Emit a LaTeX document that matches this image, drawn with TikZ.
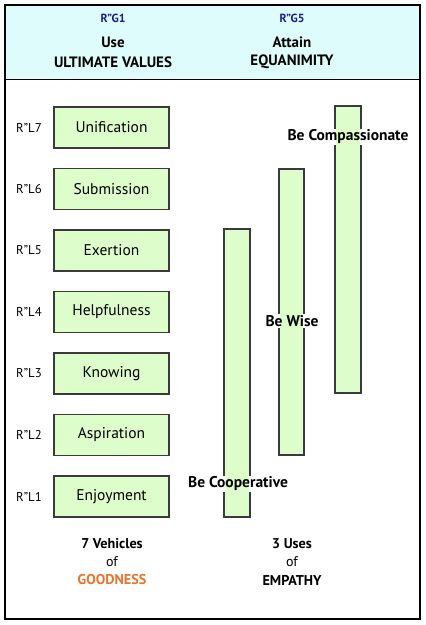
\documentclass[tikz,border=0pt]{standalone}
\usepackage{fontspec}
\setmainfont{PT Sans}
\definecolor{hdr}{HTML}{DFFCFC}
\definecolor{boxg}{HTML}{DDFDCB}
\definecolor{navy}{HTML}{1A1A8C}
\definecolor{orng}{HTML}{E8732A}
\definecolor{edge}{HTML}{3A3A3A}
\begin{document}
\begin{tikzpicture}[x=1pt,y=-1pt,
  vbox/.style={draw=edge,line width=1.2pt,fill=boxg,minimum width=115pt,minimum height=41pt,inner sep=0pt,font=\fontsize{15.5}{17}\selectfont},
  lvl/.style={font=\fontsize{12.8}{14}\selectfont},
  gid/.style={font=\bfseries\fontsize{11.8}{13}\selectfont,text=navy},
  htxt/.style={font=\bfseries\fontsize{15}{17}\selectfont},
  bar/.style={draw=edge,line width=1.2pt,fill=boxg},
  blab/.style={font=\bfseries\fontsize{15.5}{17}\selectfont,inner sep=1pt},
  btxt/.style={font=\bfseries\fontsize{14.2}{16}\selectfont,align=center}]
\useasboundingbox (0,0) rectangle (426,625);
% frame and header
\fill[hdr] (5,5) rectangle (420,79);
\draw[line width=1pt] (5,79) -- (420,79);
\draw[line width=2.4pt] (5,5) rectangle (420,619);
% header text
\node[gid] (g1) at (113,18) {R"G1};
\node[htxt] (u1) at (113,42) {Use};
\node[htxt] (u2) at (113,62) {ULTIMATE VALUES};
\node[gid] (g5) at (292,18) {R"G5};
\node[htxt] (a1) at (292,42) {Attain};
\node[htxt] (a2) at (292,62) {EQUANIMITY};
% vehicles
\node[vbox] (v7) at (111.5,127.5) {Unification};
\node[vbox] (v6) at (111.5,189) {Submission};
\node[vbox] (v5) at (111.5,250.5) {Exertion};
\node[vbox] (v4) at (111.5,312) {Helpfulness};
\node[vbox] (v3) at (111.5,373.5) {Knowing};
\node[vbox] (v2) at (111.5,435) {Aspiration};
\node[vbox] (v1) at (111.5,496.5) {Enjoyment};
\node[lvl] (l7) at (29,127.5) {R"L7};
\node[lvl] (l6) at (29,189) {R"L6};
\node[lvl] (l5) at (29,250.5) {R"L5};
\node[lvl] (l4) at (29,312) {R"L4};
\node[lvl] (l3) at (29,373.5) {R"L3};
\node[lvl] (l2) at (29,435) {R"L2};
\node[lvl] (l1) at (29,496.5) {R"L1};
% bars
\draw[bar] (224,229) rectangle (250,517);
\draw[bar] (279,169) rectangle (304,455);
\draw[bar] (335,106) rectangle (361,393);
% bar labels (white box, bar fill shows through)
\node[blab,fill=white,text opacity=0] (c3) at (348,137) {Be Compassionate};
\node[blab,fill=white,text opacity=0] (c2) at (292,321) {Be Wise};
\node[blab,fill=white,text opacity=0] (c1) at (238,484) {Be Cooperative};
\fill[boxg] (224.6,229.6) rectangle (249.4,516.4);
\fill[boxg] (279.6,169.6) rectangle (303.4,454.4);
\fill[boxg] (335.6,106.6) rectangle (360.4,392.4);
\node[blab] at (c3) {Be Compassionate};
\node[blab] at (c2) {Be Wise};
\node[blab] at (c1) {Be Cooperative};
% footer
\node[btxt] (f1) at (112,544) {7 Vehicles};
\node[font=\fontsize{14}{16}\selectfont] (f2) at (112,562) {of};
\node[btxt,text=orng] (f3) at (112,580) {GOODNESS};
\node[btxt] (f4) at (292,544) {3 Uses};
\node[font=\fontsize{14}{16}\selectfont] (f5) at (292,562) {of};
\node[btxt] (f6) at (292,580) {EMPATHY};
\end{tikzpicture}
\end{document}
